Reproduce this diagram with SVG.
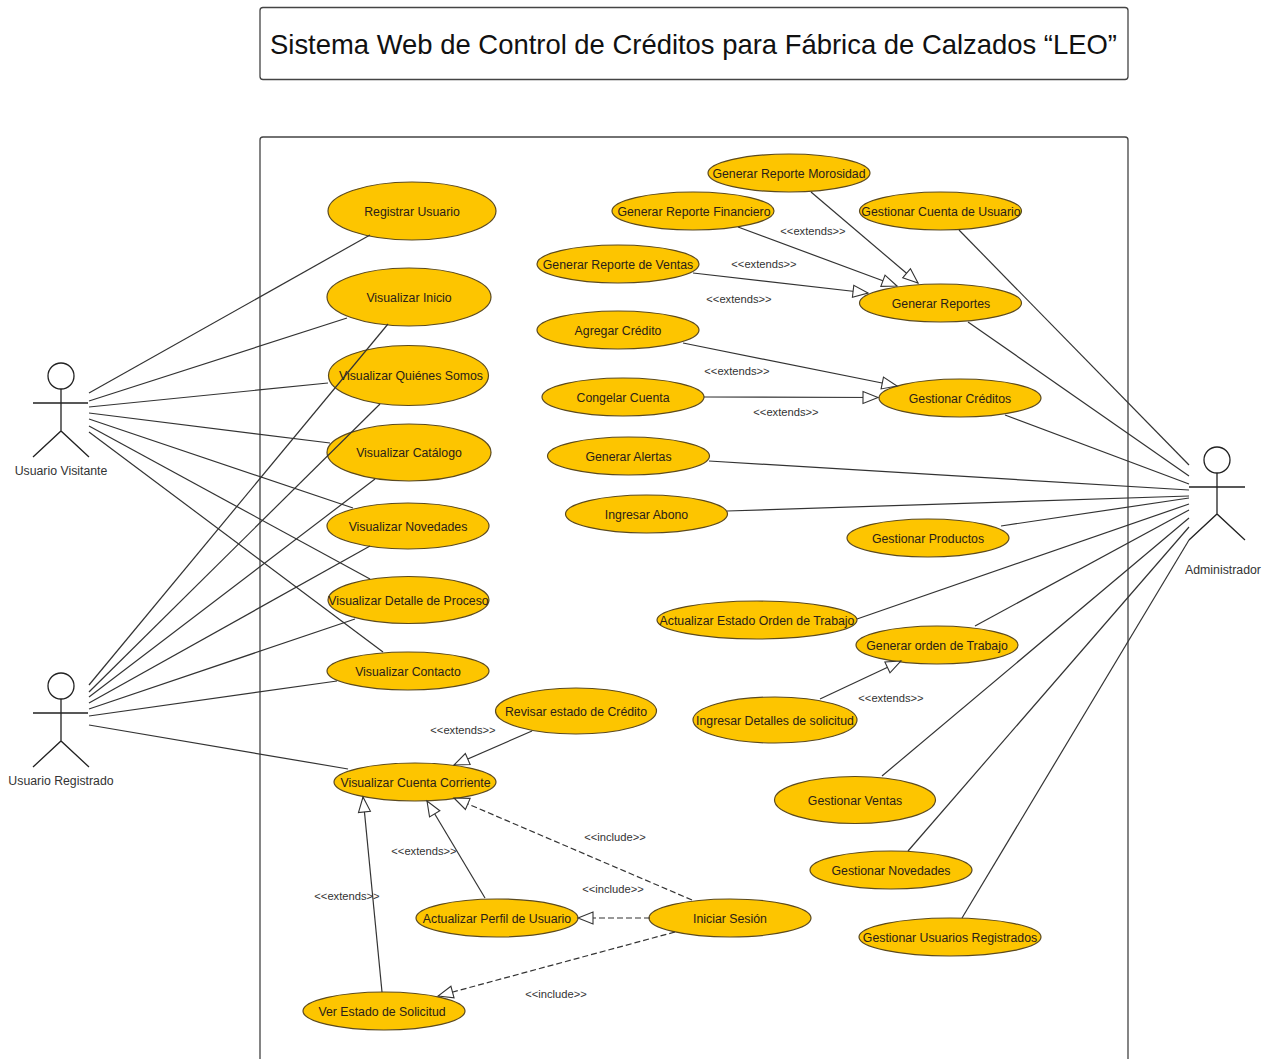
<svg xmlns="http://www.w3.org/2000/svg" width="1273" height="1059" viewBox="0 0 1273 1059">
<style>
text{font-family:"Liberation Sans",Arial,sans-serif;fill:#2a2118;text-anchor:middle;dominant-baseline:central}
.uc ellipse{fill:#fdc500;stroke:#5c4a1e;stroke-width:1.2}
.uc text{font-size:12.3px;transform:translateY(.7px)}
.lab{font-size:11.2px;fill:#333}
.act{fill:none;stroke:#222;stroke-width:1.3}
.frame{fill:#fff;stroke:#444;stroke-width:1.3}
.actor text{font-size:12.3px;fill:#333;stroke:none}
#connectors line{stroke:#333;stroke-width:1.2;fill:none}
#connectors .h{marker-end:url(#tri)}
#connectors .d{stroke-dasharray:6 3;marker-end:url(#tri)}
</style>
<defs>
<marker id="tri" markerUnits="userSpaceOnUse" markerWidth="18" markerHeight="16" refX="16" refY="8" orient="auto">
<path d="M16 8L1 2V14Z" fill="#fff" stroke="#333" stroke-width="1.1"/>
</marker>
</defs>
<rect width="1273" height="1059" fill="#fff"/>
<g id="title"><rect class="frame" x="260" y="7.500" width="868" height="72" rx="3"/><text x="693.500" y="44.500" style="font-size:27.430px;fill:#111">Sistema Web de Control de Créditos para Fábrica de Calzados “LEO”</text></g>
<g id="boundary"><rect class="frame" x="260" y="137" width="868" height="960" rx="3"/></g>
<g id="n1" class="uc"><ellipse cx="412" cy="211" rx="84" ry="29"/><text x="412" y="211">Registrar Usuario</text></g>
<g id="n2" class="uc"><ellipse cx="409" cy="297" rx="82" ry="29"/><text x="409" y="297">Visualizar Inicio</text></g>
<g id="n3" class="uc"><ellipse cx="408.500" cy="375.500" rx="80" ry="30"/><text x="411" y="375.500">Visualizar Quiénes Somos</text></g>
<g id="n4" class="uc"><ellipse cx="409" cy="452.500" rx="82" ry="28.500"/><text x="409" y="452.500">Visualizar Catálogo</text></g>
<g id="n5" class="uc"><ellipse cx="408" cy="526" rx="81" ry="23"/><text x="408" y="526.500">Visualizar Novedades</text></g>
<g id="n6" class="uc"><ellipse cx="408.500" cy="600" rx="80.500" ry="23.500"/><text x="408.500" y="600">Visualizar Detalle de Proceso</text></g>
<g id="n7" class="uc"><ellipse cx="408" cy="671" rx="81" ry="19"/><text x="408" y="671">Visualizar Contacto</text></g>
<g id="n8" class="uc"><ellipse cx="415" cy="782" rx="81" ry="19"/><text x="415.500" y="782">Visualizar Cuenta Corriente</text></g>
<g id="n9" class="uc"><ellipse cx="576" cy="711" rx="80.500" ry="23"/><text x="576" y="711">Revisar estado de Crédito</text></g>
<g id="n10" class="uc"><ellipse cx="497" cy="918" rx="81" ry="19"/><text x="497" y="918">Actualizar Perfil de Usuario</text></g>
<g id="n11" class="uc"><ellipse cx="730" cy="918" rx="81" ry="19"/><text x="730" y="918">Iniciar Sesión</text></g>
<g id="n12" class="uc"><ellipse cx="384" cy="1011" rx="81" ry="19"/><text x="382" y="1011">Ver Estado de Solicitud</text></g>
<g id="n13" class="uc"><ellipse cx="789" cy="173" rx="81" ry="19"/><text x="789" y="173">Generar Reporte Morosidad</text></g>
<g id="n14" class="uc"><ellipse cx="693" cy="211" rx="81" ry="19"/><text x="694" y="211">Generar Reporte Financiero</text></g>
<g id="n15" class="uc"><ellipse cx="940.500" cy="211" rx="81" ry="19"/><text x="941" y="211">Gestionar Cuenta de Usuario</text></g>
<g id="n16" class="uc"><ellipse cx="618" cy="264" rx="81" ry="19"/><text x="618" y="264">Generar Reporte de Ventas</text></g>
<g id="n17" class="uc"><ellipse cx="940.500" cy="303" rx="81" ry="19"/><text x="941" y="303">Generar Reportes</text></g>
<g id="n18" class="uc"><ellipse cx="618" cy="330" rx="81" ry="19"/><text x="618" y="330.500">Agregar Crédito</text></g>
<g id="n19" class="uc"><ellipse cx="623" cy="397" rx="81" ry="19"/><text x="623" y="397">Congelar Cuenta</text></g>
<g id="n20" class="uc"><ellipse cx="960" cy="398" rx="81" ry="19"/><text x="960" y="398.500">Gestionar Créditos</text></g>
<g id="n21" class="uc"><ellipse cx="628.500" cy="456" rx="81" ry="19"/><text x="628.500" y="456">Generar Alertas</text></g>
<g id="n22" class="uc"><ellipse cx="646.500" cy="514" rx="81" ry="19"/><text x="646.500" y="514">Ingresar Abono</text></g>
<g id="n23" class="uc"><ellipse cx="928" cy="538" rx="81" ry="19"/><text x="928" y="538">Gestionar Productos</text></g>
<g id="n24" class="uc"><ellipse cx="757" cy="620" rx="100" ry="19"/><text x="757" y="620">Actualizar Estado Orden de Trabajo</text></g>
<g id="n25" class="uc"><ellipse cx="937" cy="645" rx="81" ry="19"/><text x="937" y="645">Generar orden de Trabajo</text></g>
<g id="n26" class="uc"><ellipse cx="775" cy="720" rx="82" ry="23"/><text x="775" y="720.500">Ingresar Detalles de solicitud</text></g>
<g id="n27" class="uc"><ellipse cx="855" cy="800" rx="80.500" ry="23.500"/><text x="855" y="800">Gestionar Ventas</text></g>
<g id="n28" class="uc"><ellipse cx="891" cy="870" rx="81" ry="19"/><text x="891" y="870.500">Gestionar Novedades</text></g>
<g id="n29" class="uc"><ellipse cx="950" cy="937" rx="91" ry="19"/><text x="950" y="937.500">Gestionar Usuarios Registrados</text></g>
<g id="a1" class="actor"><circle class="act" cx="61" cy="376" r="13"/><path class="act" d="M61 389V431M33 403H88M33 457L61 431L89 457"/><text x="61" y="471">Usuario Visitante</text></g>
<g id="a2" class="actor"><circle class="act" cx="61" cy="686" r="13"/><path class="act" d="M61 699V741M33 713H88M33 767L61 741L89 767"/><text x="61" y="781">Usuario Registrado</text></g>
<g id="a3" class="actor"><circle class="act" cx="1217" cy="460" r="13"/><path class="act" d="M1217 473V514M1189 487H1245M1189 540L1217 514L1245 540"/><text x="1223" y="570">Administrador</text></g>
<g id="connectors">
<line x1="89" y1="393" x2="370" y2="235"/>
<line x1="89" y1="401" x2="347" y2="318"/>
<line x1="89" y1="407" x2="328" y2="383"/>
<line x1="89" y1="413" x2="330" y2="443"/>
<line x1="89" y1="419" x2="353" y2="508"/>
<line x1="89" y1="426" x2="370" y2="579"/>
<line x1="89" y1="432" x2="383" y2="652"/>
<line x1="89" y1="685" x2="388" y2="324"/>
<line x1="89" y1="692" x2="380" y2="404"/>
<line x1="89" y1="697" x2="375" y2="479"/>
<line x1="89" y1="703" x2="370" y2="546"/>
<line x1="89" y1="709" x2="355" y2="619"/>
<line x1="89" y1="716" x2="337" y2="681"/>
<line x1="89" y1="725" x2="348" y2="769"/>
<line x1="959" y1="230" x2="1189" y2="465"/>
<line x1="968" y1="322" x2="1189" y2="476"/>
<line x1="1005" y1="415" x2="1189" y2="484"/>
<line x1="709" y1="461" x2="1189" y2="490"/>
<line x1="727" y1="511" x2="1189" y2="496"/>
<line x1="1001" y1="526" x2="1189" y2="498"/>
<line x1="857" y1="619" x2="1189" y2="504"/>
<line x1="975" y1="626" x2="1189" y2="510"/>
<line x1="882" y1="776" x2="1189" y2="518"/>
<line x1="908" y1="851" x2="1189" y2="527"/>
<line x1="962" y1="918" x2="1189" y2="540"/>
<line class="h" x1="811" y1="192" x2="918" y2="283"/>
<line class="h" x1="738" y1="227" x2="897" y2="286"/>
<line class="h" x1="693" y1="273" x2="868" y2="293"/>
<line class="h" x1="683" y1="343" x2="897" y2="386"/>
<line class="h" x1="704" y1="397" x2="878" y2="397.500"/>
<line class="h" x1="820" y1="699" x2="901" y2="661"/>
<line class="h" x1="532" y1="731" x2="454" y2="765"/>
<line class="h" x1="382" y1="992" x2="363" y2="797"/>
<line class="h" x1="485" y1="898" x2="427" y2="801"/>
<line class="d" x1="692" y1="900" x2="454" y2="798"/>
<line class="d" x1="650" y1="918" x2="578" y2="918"/>
<line class="d" x1="675" y1="932" x2="438" y2="996"/>
</g>
<g id="labels">
<text class="lab" x="813" y="231">&lt;&lt;extends&gt;&gt;</text>
<text class="lab" x="764" y="264">&lt;&lt;extends&gt;&gt;</text>
<text class="lab" x="739" y="299">&lt;&lt;extends&gt;&gt;</text>
<text class="lab" x="737" y="371">&lt;&lt;extends&gt;&gt;</text>
<text class="lab" x="786" y="412">&lt;&lt;extends&gt;&gt;</text>
<text class="lab" x="463" y="730">&lt;&lt;extends&gt;&gt;</text>
<text class="lab" x="424" y="851">&lt;&lt;extends&gt;&gt;</text>
<text class="lab" x="347" y="896">&lt;&lt;extends&gt;&gt;</text>
<text class="lab" x="891" y="698">&lt;&lt;extends&gt;&gt;</text>
<text class="lab" x="615" y="837">&lt;&lt;include&gt;&gt;</text>
<text class="lab" x="613" y="889">&lt;&lt;include&gt;&gt;</text>
<text class="lab" x="556" y="994">&lt;&lt;include&gt;&gt;</text>
</g>
</svg>
